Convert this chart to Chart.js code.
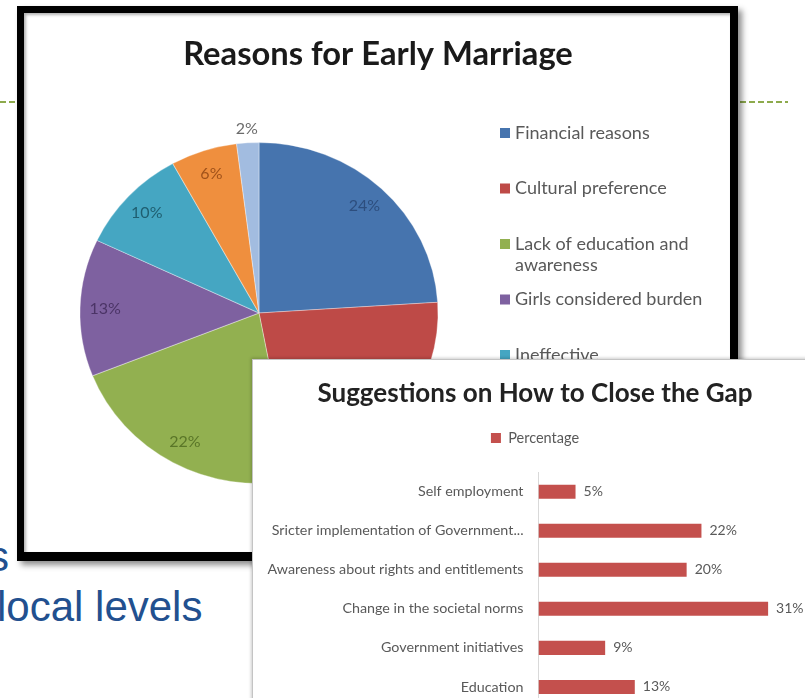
<!DOCTYPE html>
<html><head><meta charset="utf-8">
<script src="https://cdn.jsdelivr.net/npm/chart.js@4.4.1/dist/chart.umd.min.js"></script>
<style>
html,body{margin:0;padding:0;width:805px;height:698px;overflow:hidden;background:#fff;position:relative;}
.dash{position:absolute;top:101px;height:2px;background:repeating-linear-gradient(90deg,#8DAA4C 0 6px,transparent 6px 9px);}
.slide{position:absolute;font-family:'Liberation Sans',Arial,sans-serif;font-size:42px;line-height:42px;color:#22508F;white-space:nowrap;}
#pieBox{position:absolute;left:17px;top:6px;width:706px;height:539px;border-style:solid;border-color:#000;border-width:7px 8px 9px 7px;box-shadow:4px 4px 6px rgba(0,0,0,0.45);background:#fff;}
#pieBox::after{content:'';position:absolute;left:0;top:0;right:0;bottom:0;box-shadow:inset 2px 2px 3px rgba(0,0,0,0.3);pointer-events:none;}
#pieBox canvas{position:absolute;left:0;top:0;}
#barBox{position:absolute;left:252px;top:359px;width:564px;height:370px;border:1px solid #C4C4C4;background:#fff;box-shadow:-1px -1px 3px rgba(0,0,0,0.2);}
#barBox canvas{position:absolute;left:0;top:0;}
</style></head><body>
<div class="dash" style="left:0;width:18px"></div>
<div class="dash" style="left:740px;width:48px"></div>
<div class="slide" style="left:-12px;top:536px">s</div>
<div class="slide" style="left:-3px;top:586px">local levels</div>
<div id="pieBox"><canvas id="pie" width="706" height="539"></canvas></div>
<div id="barBox"><canvas id="bar" width="564" height="370"></canvas></div>
<script>
// ---- data ----
const pieTitle = "Reasons for Early Marriage";
const pieCategories = ["Financial reasons", "Cultural preference", "Lack of education and awareness", "Girls considered burden", "Ineffective implementation of laws", "Security concerns", "Others"];
const pieValues = [24, 23, 22, 13, 10, 6, 2];

const barTitle = "Suggestions on How to Close the Gap";
const barSeries = "Percentage";
const barCategories = ["Self employment", "Sricter implementation of Government...", "Awareness about rights and entitlements", "Change in the societal norms", "Government initiatives", "Education"];
const barValues = [5, 22, 20, 31, 9, 13];

// ---- styles ----
const pieColors = ['#4674AE', '#BE4A47', '#92B050', '#7E61A0', '#45A6C2', '#EF8F3E', '#A2BCE0'];
const pieLabelColors = ['#2D4E7E', '#7E2A28', '#5A7628', '#4B3466', '#1F5E70', '#A0521A', '#6B6B6B'];
const stretchX = 1.05;

Chart.defaults.font.family = 'Lato';

const stretchPlugin = {
  id: 'stretch',
  beforeDatasetsDraw(chart) {
    const a = chart.getDatasetMeta(0).data[0];
    const ctx = chart.ctx;
    ctx.save();
    ctx.translate(a.x, 0); ctx.scale(stretchX, 1); ctx.translate(-a.x, 0);
  },
  afterDatasetsDraw(chart) { chart.ctx.restore(); }
};

const pieDecor = {
  id: 'pieDecor',
  afterDraw(chart) {
    const ctx = chart.ctx;
    const meta = chart.getDatasetMeta(0);
    ctx.save();
    // slice labels
    ctx.font = '16px Lato';
    ctx.textAlign = 'center'; ctx.textBaseline = 'middle';
    meta.data.forEach((arc, i) => {
      const v = chart.data.datasets[0].data[i];
      const mid = (arc.startAngle + arc.endAngle) / 2;
      const f = v < 4 ? 1.08 : 0.86;
      const x = arc.x + Math.cos(mid) * arc.outerRadius * f * stretchX;
      const y = arc.y + Math.sin(mid) * arc.outerRadius * f;
      ctx.fillStyle = pieLabelColors[i];
      ctx.fillText(v + '%', x, y);
    });
    // title
    ctx.fillStyle = '#1A1A1A';
    ctx.font = 'bold 32.7px Lato';
    ctx.fillText(pieTitle, chart.width / 2 + 1, 41);
    // legend
    ctx.font = '18px Lato';
    ctx.textAlign = 'left';
    const lx = 476, tx = 491, wrap = 200;
    chart.data.labels.forEach((lab, i) => {
      const y0 = 120 + i * 55.5;
      ctx.fillStyle = pieColors[i];
      ctx.fillRect(lx, y0 - 5, 10, 10);
      ctx.fillStyle = '#595959';
      const words = lab.split(' ');
      let line = '', y = y0;
      words.forEach(w => {
        const test = line ? line + ' ' + w : w;
        if (ctx.measureText(test).width > wrap && line) {
          ctx.fillText(line, tx, y); line = w; y += 21;
        } else line = test;
      });
      ctx.fillText(line, tx, y);
    });
    ctx.restore();
  }
};

new Chart(document.getElementById('pie'), {
  type: 'pie',
  data: { labels: pieCategories, datasets: [{ data: pieValues, backgroundColor: pieColors, borderColor: 'rgba(255,255,255,0.35)', borderWidth: 1 }] },
  options: {
    responsive: false, animation: false,
    layout: { padding: { left: 64, right: 300, top: 129, bottom: 68 } },
    plugins: { legend: { display: false }, title: { display: false }, tooltip: { enabled: false } }
  },
  plugins: [stretchPlugin, pieDecor]
});

const barLabels = {
  id: 'barLabels',
  afterDatasetsDraw(chart) {
    const ctx = chart.ctx;
    ctx.save();
    ctx.font = '14px Lato'; ctx.fillStyle = '#595959';
    ctx.textAlign = 'left'; ctx.textBaseline = 'middle';
    chart.getDatasetMeta(0).data.forEach((bar, i) => {
      ctx.fillText(chart.data.datasets[0].data[i] + '%', bar.x + 8, bar.y);
    });
    ctx.restore();
  }
};

new Chart(document.getElementById('bar'), {
  type: 'bar',
  data: { labels: barCategories, datasets: [{ label: barSeries, data: barValues, backgroundColor: '#C4504D', barPercentage: 0.36, categoryPercentage: 1 }] },
  options: {
    indexAxis: 'y', responsive: false, animation: false,
    layout: { padding: { left: 0, right: 0, top: 0, bottom: 5 } },
    plugins: {
      title: { display: true, text: barTitle, font: { family: 'Lato', size: 26, weight: 'bold' }, color: '#222', padding: { top: 18.4, bottom: 11.15 } },
      legend: { display: true, position: 'top', labels: { boxWidth: 10, boxHeight: 10, font: { family: 'Lato', size: 14.5 }, color: '#595959', padding: 10 } },
      tooltip: { enabled: false }
    },
    scales: {
      x: { position: 'top', min: 0, max: 37.6, grid: { display: false }, ticks: { display: false }, border: { display: false }, afterFit(s) { s.height = 17; } },
      y: { grid: { display: false, drawTicks: false }, border: { display: true, color: '#D9D9D9' }, ticks: { padding: 15, font: { family: 'Lato', size: 14.3 }, color: '#595959', autoSkip: false }, afterFit(s) { s.width = 285.5; } }
    }
  },
  plugins: [barLabels]
});
</script>
</body></html>
